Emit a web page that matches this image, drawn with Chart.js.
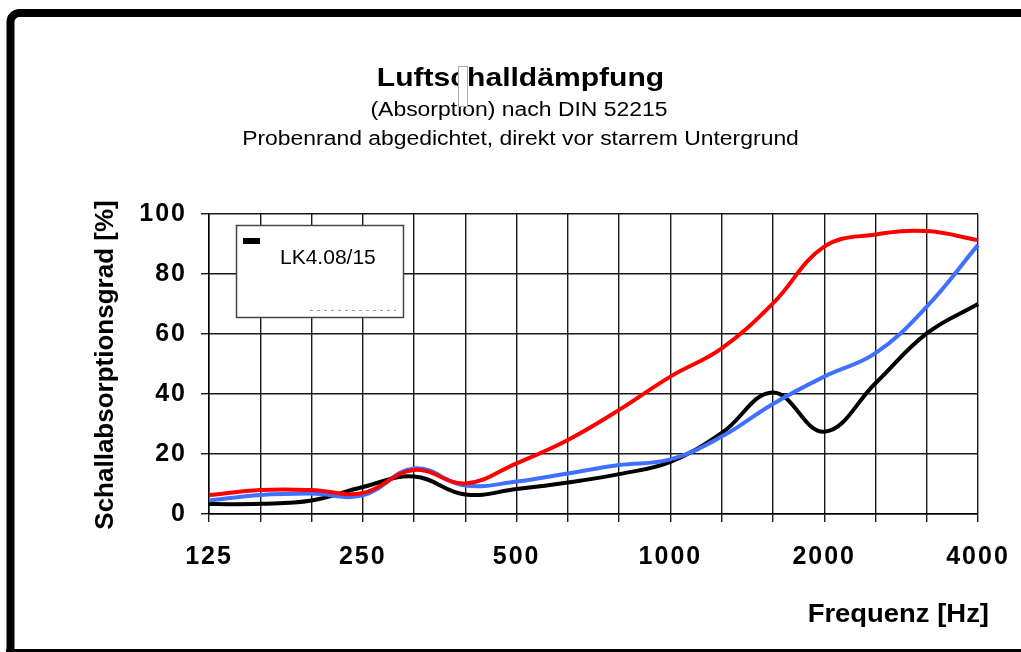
<!DOCTYPE html>
<html>
<head>
<meta charset="utf-8">
<script src="https://cdn.jsdelivr.net/npm/chart.js@4"></script>
<style>
  html, body { margin: 0; padding: 0; background: #fff; }
  #wrap { width: 1021px; height: 652px; position: relative; }
</style>
</head>
<body>
<div id="wrap"><canvas id="c" width="1021" height="652"></canvas></div>
<script>
// ---- data ----
const frequencies = [125, 160, 200, 250, 315, 400, 500, 630, 800, 1000, 1250, 1600, 2000, 2500, 3150, 4000];
const labeledFrequencies = [125, 250, 500, 1000, 2000, 4000];
const seriesRed   = [6.3, 8.0, 8.0, 7.0, 14.7, 10.2, 16.9, 24.7, 34.7, 45.8, 55.2, 70.2, 89.1, 93.2, 94.3, 91.3];
const seriesBlue  = [4.5, 6.3, 6.8, 6.2, 15.2, 9.5, 10.8, 13.5, 16.3, 18.2, 25.8, 36.7, 45.8, 53.6, 69.1, 89.7];
const seriesBlack = [3.3, 3.4, 4.5, 9.0, 12.5, 6.5, 8.3, 10.5, 13.3, 17.4, 27.0, 40.5, 27.4, 43.6, 60.2, 70.0];
const yTicks = [0, 20, 40, 60, 80, 100];
const titleText = 'Luftschalldämpfung';
const subtitleLines = ['(Absorption) nach DIN 52215', 'Probenrand abgedichtet, direkt vor starrem Untergrund'];
const yTitle = 'Schallabsorptionsgrad [%]';
const xTitle = 'Frequenz [Hz]';
const legendLabel = 'LK4.08/15';

const FONT = '"Liberation Sans", Arial, sans-serif';

function stretchedText(ctx, text, x, y, sx, align) {
  ctx.save();
  ctx.translate(x, y);
  ctx.scale(sx, 1);
  ctx.textAlign = align;
  ctx.fillText(text, 0, 0);
  ctx.restore();
}

const decor = {
  id: 'decor',
  beforeDraw(chart) {
    const ctx = chart.ctx;
    ctx.save();
    ctx.fillStyle = '#fff';
    ctx.fillRect(0, 0, chart.width, chart.height);
    ctx.restore();
    // the original's lettering is slightly wider
    ctx.letterSpacing = '2px';
  },
  afterDraw(chart) {
    const ctx = chart.ctx;
    ctx.letterSpacing = '0px';
    ctx.save();
    // frame
    ctx.strokeStyle = '#000';
    ctx.lineWidth = 8;
    ctx.beginPath();
    ctx.moveTo(10.5, 660);
    ctx.lineTo(10.5, 25);
    ctx.arcTo(10.5, 13, 23, 13, 9);
    ctx.lineTo(1040, 13);
    ctx.stroke();
    ctx.fillStyle = '#000';
    ctx.fillRect(6, 649, 1021, 4);

    // titles
    ctx.fillStyle = '#000';
    ctx.textBaseline = 'alphabetic';
    ctx.font = 'bold 26px ' + FONT;
    stretchedText(ctx, titleText, 520.5, 86, 1.157, 'center');
    ctx.font = '20px ' + FONT;
    stretchedText(ctx, subtitleLines[0], 519, 116, 1.147, 'center');
    stretchedText(ctx, subtitleLines[1], 520.5, 145, 1.146, 'center');
    // small artefact box in the title
    ctx.fillStyle = '#fff';
    ctx.fillRect(458, 66, 10, 41);
    ctx.strokeStyle = '#aaa';
    ctx.lineWidth = 1;
    ctx.strokeRect(458.5, 66.5, 9, 40);

    // axis titles
    ctx.fillStyle = '#000';
    ctx.font = 'bold 26px ' + FONT;
    stretchedText(ctx, xTitle, 989, 622, 1.055, 'right');
    ctx.save();
    ctx.translate(113, 365);
    ctx.rotate(-Math.PI / 2);
    ctx.textAlign = 'center';
    ctx.fillText(yTitle, 0, 0);
    ctx.restore();

    // legend box
    ctx.fillStyle = '#fff';
    ctx.fillRect(236, 225, 168, 93);
    ctx.strokeStyle = '#444';
    ctx.lineWidth = 1.5;
    ctx.strokeRect(236.5, 225.5, 167, 92);
    ctx.fillStyle = '#000';
    ctx.fillRect(243, 238, 17, 6);
    ctx.textAlign = 'left';
    ctx.font = '21px ' + FONT;
    ctx.fillText(legendLabel, 280, 264);
    ctx.strokeStyle = '#99a';
    ctx.setLineDash([3, 4]);
    ctx.lineWidth = 1;
    ctx.beginPath();
    ctx.moveTo(310, 310.5);
    ctx.lineTo(396, 310.5);
    ctx.stroke();
    ctx.restore();
  }
};

new Chart(document.getElementById('c'), {
  type: 'line',
  data: {
    labels: frequencies,
    datasets: [
      { label: 'rot', data: seriesRed, borderColor: '#ff0000', order: 0 },
      { label: 'blau', data: seriesBlue, borderColor: '#4070ff', order: 1 },
      { label: 'LK4.08/15', data: seriesBlack, borderColor: '#000000', order: 2 }
    ]
  },
  options: {
    responsive: false,
    animation: false,
    devicePixelRatio: 1,
    layout: { padding: { left: 0, top: 214, right: 43, bottom: 0 } },
    elements: {
      line: { borderWidth: 4, tension: 0.4 },
      point: { radius: 0, hoverRadius: 0 }
    },
    plugins: { legend: { display: false }, tooltip: { enabled: false }, title: { display: false } },
    scales: {
      x: {
        type: 'category',
        offset: false,
        grid: { color: '#1a1a1a', lineWidth: 1.4, tickLength: 8 },
        border: { color: '#000', width: 1.5 },
        ticks: {
          autoSkip: false, maxRotation: 0, padding: 20,
          color: '#000',
          font: { family: FONT, size: 25, weight: 'bold' },
          callback(value, index) {
            const f = frequencies[index];
            return labeledFrequencies.includes(f) ? String(f) : '';
          }
        },
        afterFit(scale) { scale.height = 138; scale.paddingRight = 0; scale.paddingLeft = 0; }
      },
      y: {
        min: 0, max: 100,
        afterBuildTicks(scale) { scale.ticks = yTicks.map(v => ({ value: v })); },
        grid: { color: '#1a1a1a', lineWidth: 1.4, tickLength: 8 },
        border: { color: '#000', width: 1.5 },
        ticks: {
          padding: 14, color: '#000',
          font: { family: FONT, size: 25, weight: 'bold' }
        },
        afterFit(scale) { scale.width = 209; scale.paddingTop = 0; scale.paddingBottom = 0; }
      }
    }
  },
  plugins: [decor]
});
</script>
</body>
</html>
